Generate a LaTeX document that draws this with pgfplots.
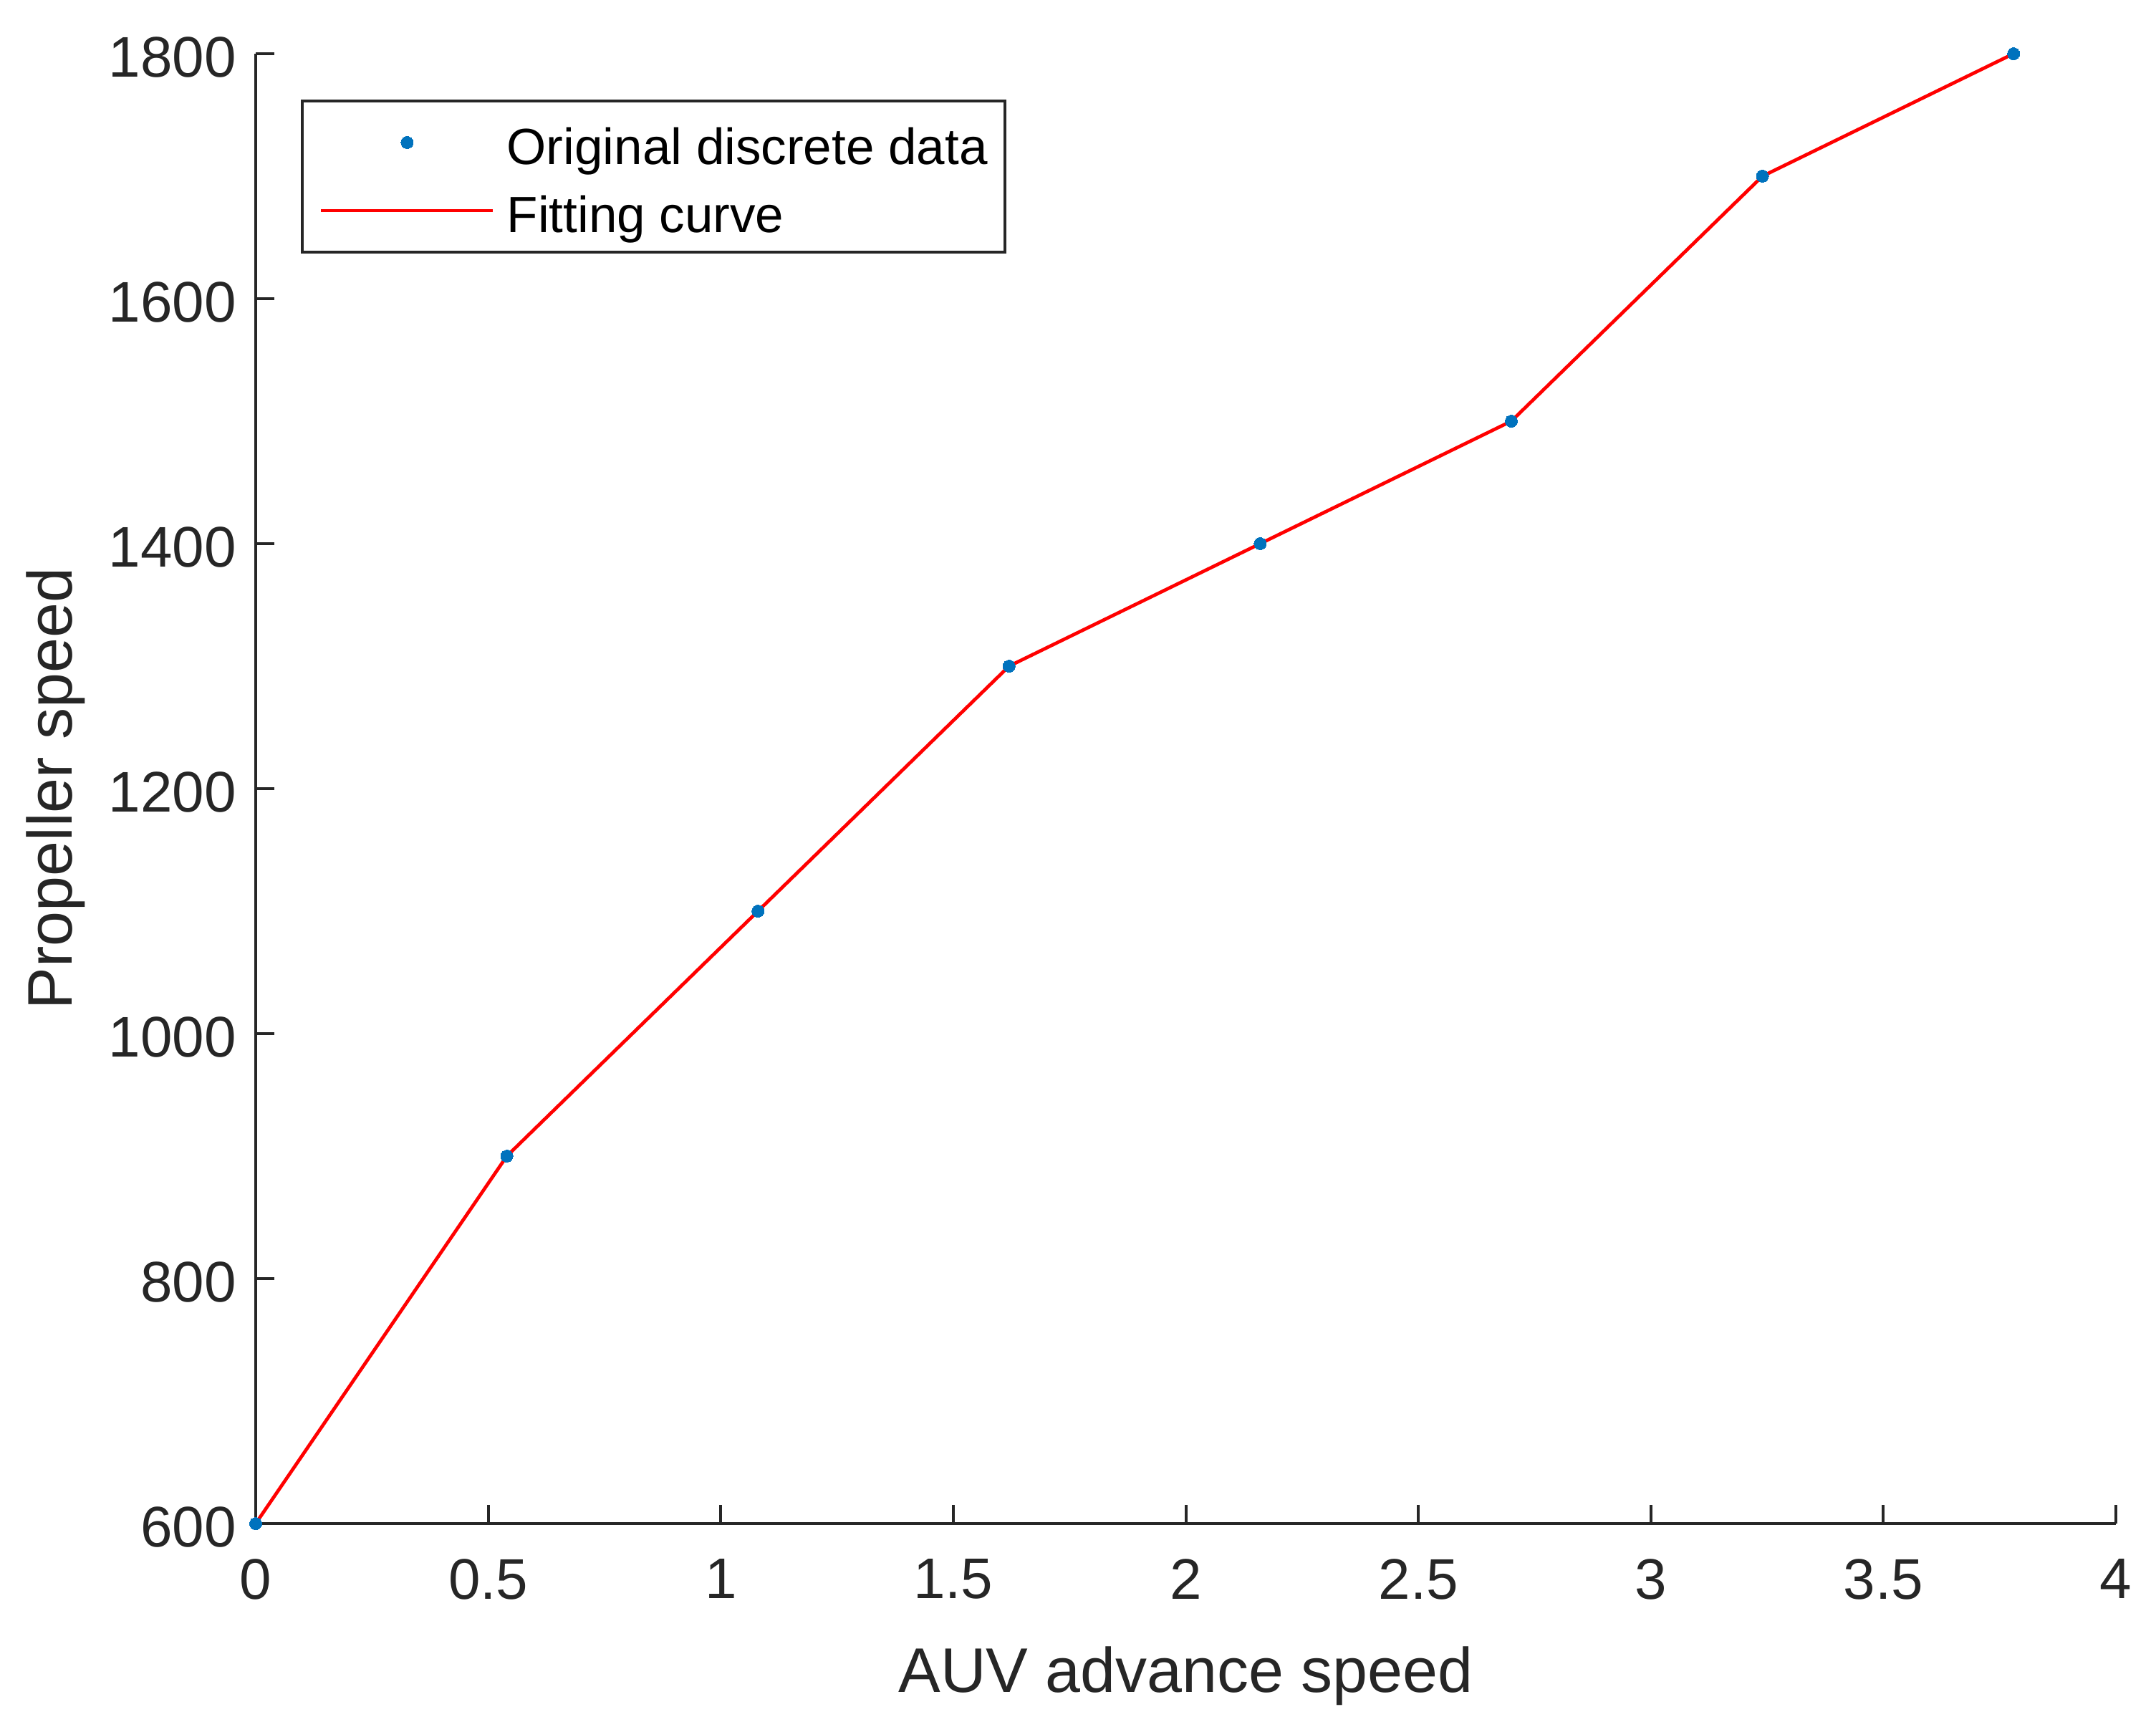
\documentclass[border=0pt]{standalone}
\usepackage{fontspec}
\setmainfont{Liberation Sans}
\usepackage{pgfplots}
\pgfplotsset{compat=1.18}
\definecolor{axgray}{HTML}{262626}
\definecolor{mblue}{HTML}{0072BD}
\begin{document}
\begin{tikzpicture}
\begin{axis}[
  scale only axis,
  width=519.4pt, height=410.4pt,
  xmin=0, xmax=4, ymin=600, ymax=1800,
  xtick={0,0.5,...,4}, ytick={600,800,...,1800},
  axis x line=bottom, axis y line=left,
  axis line style={-, draw=axgray, line width=0.8pt},
  every tick/.style={draw=axgray, line width=0.8pt},
  tick align=inside,
  major tick length=5.2pt,
  /pgf/number format/assume math mode=true,
  /pgf/number format/1000 sep={},
  ticklabel style={font=\fontsize{16}{19}\selectfont, text=axgray},
  xticklabel style={yshift=-6.3pt},
  yticklabel style={xshift=-1.9pt, yshift=-1pt},
  xlabel={AUV advance speed},
  ylabel={Propeller speed},
  label style={font=\fontsize{17.6}{21}\selectfont, text=axgray},
  xlabel style={at={(axis description cs:0.5,-0.1038)}, anchor=center},
  ylabel style={at={(axis description cs:-0.1074,0.5)}, anchor=center, rotate=0},
  legend image code/.code={\draw[mark repeat=2,mark phase=2,#1] plot coordinates {(0pt,0pt) (24pt,0pt) (48pt,0pt)};},
  legend style={at={(axis description cs:0.02426,0.96881)}, anchor=north west,
    draw=axgray, line width=0.8pt, inner xsep=4.8pt, inner ysep=2.1pt,
    row sep=0pt, column sep=3.4pt,
    font=\fontsize{14.2}{17}\selectfont,
    nodes={inner sep=0pt, text height=15.7pt, text depth=3.3pt, text=black}},
  legend cell align=left,
  clip=false,
]
\addplot[only marks, mark=*, mark size=1.7pt, mark options={fill=mblue, draw=mblue, line width=0pt}]
  coordinates {(0,600) (0.54,900) (1.08,1100) (1.62,1300) (2.16,1400) (2.70,1500) (3.24,1700) (3.78,1800)};
\addlegendentry{Original discrete data}
\addplot[red, line width=0.95pt, no marks]
  coordinates {(0,600) (0.54,900) (1.08,1100) (1.62,1300) (2.16,1400) (2.70,1500) (3.24,1700) (3.78,1800)};
\addlegendentry{Fitting curve}
\end{axis}
\path (current axis.south west) ++(-71.4pt,-55.4pt);
\path (current axis.north east) ++(11.2pt,15pt);
\end{tikzpicture}
\end{document}
